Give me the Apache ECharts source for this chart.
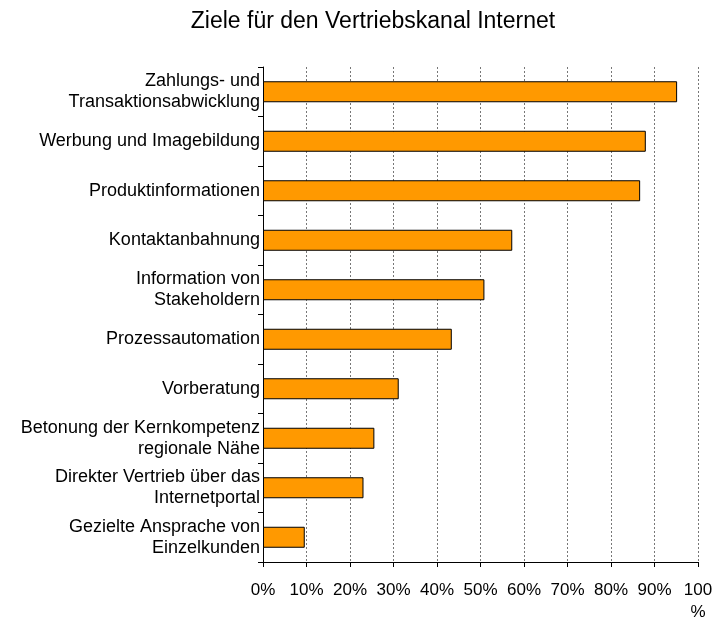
<!DOCTYPE html>
<html>
<head>
<meta charset="utf-8">
<script src="https://cdn.jsdelivr.net/npm/echarts@6/dist/echarts.min.js"></script>
<style>
  html, body { margin: 0; padding: 0; background: #fff; }
  #chart { width: 718px; height: 623px; }
</style>
</head>
<body>
<div id="chart"></div>
<script>
// Kategorien von oben nach unten
const categories = [
  'Zahlungs- und\nTransaktionsabwicklung',
  'Werbung und Imagebildung',
  'Produktinformationen',
  'Kontaktanbahnung',
  'Information von\nStakeholdern',
  'Prozessautomation',
  'Vorberatung',
  'Betonung der Kernkompetenz\nregionale Nähe',
  'Direkter Vertrieb über das\nInternetportal',
  'Gezielte Ansprache von\nEinzelkunden'
]
const values = [95.2, 88.0, 86.7, 57.3, 50.9, 43.4, 31.2, 25.6, 23.1, 9.6]
const xTicks = [0, 10, 20, 30, 40, 50, 60, 70, 80, 90, 100]

const font = 'Liberation Sans, Arial, sans-serif'
const chart = echarts.init(document.getElementById('chart'))

chart.setOption({
  animation: false,
  title: {
    text: 'Ziele für den Vertriebskanal Internet',
    left: 368,
    textAlign: 'center',
    top: 5,
    textStyle: { fontFamily: font, fontSize: 23, fontWeight: 'normal', color: '#000' }
  },
  grid: { left: 263, right: 20, top: 67, bottom: 59 },
  xAxis: {
    type: 'value',
    min: xTicks[0],
    max: xTicks[xTicks.length - 1],
    interval: 10,
    axisLine: { show: true, lineStyle: { color: '#000', width: 1 } },
    axisTick: { show: true, length: 5, lineStyle: { color: '#000' } },
    axisLabel: {
      margin: 17,
      fontFamily: font,
      fontSize: 17,
      color: '#000',
      lineHeight: 22,
      formatter: v => v === 100 ? '100\n%' : v + '%'
    },
    splitLine: { show: true, lineStyle: { color: '#777', type: [2, 2], width: 1 } }
  },
  yAxis: {
    type: 'category',
    data: categories,
    inverse: true,
    axisLine: { show: true, lineStyle: { color: '#000', width: 1 } },
    axisTick: { show: true, length: 5, alignWithLabel: false, lineStyle: { color: '#000' } },
    axisLabel: {
      margin: 3,
      fontFamily: font,
      fontSize: 18,
      lineHeight: 21,
      color: '#000',
      align: 'right'
    }
  },
  series: [{
    type: 'bar',
    data: values,
    barWidth: 21,
    itemStyle: { color: '#FF9900', borderColor: '#000', borderWidth: 1 }
  }]
})
</script>
</body>
</html>
